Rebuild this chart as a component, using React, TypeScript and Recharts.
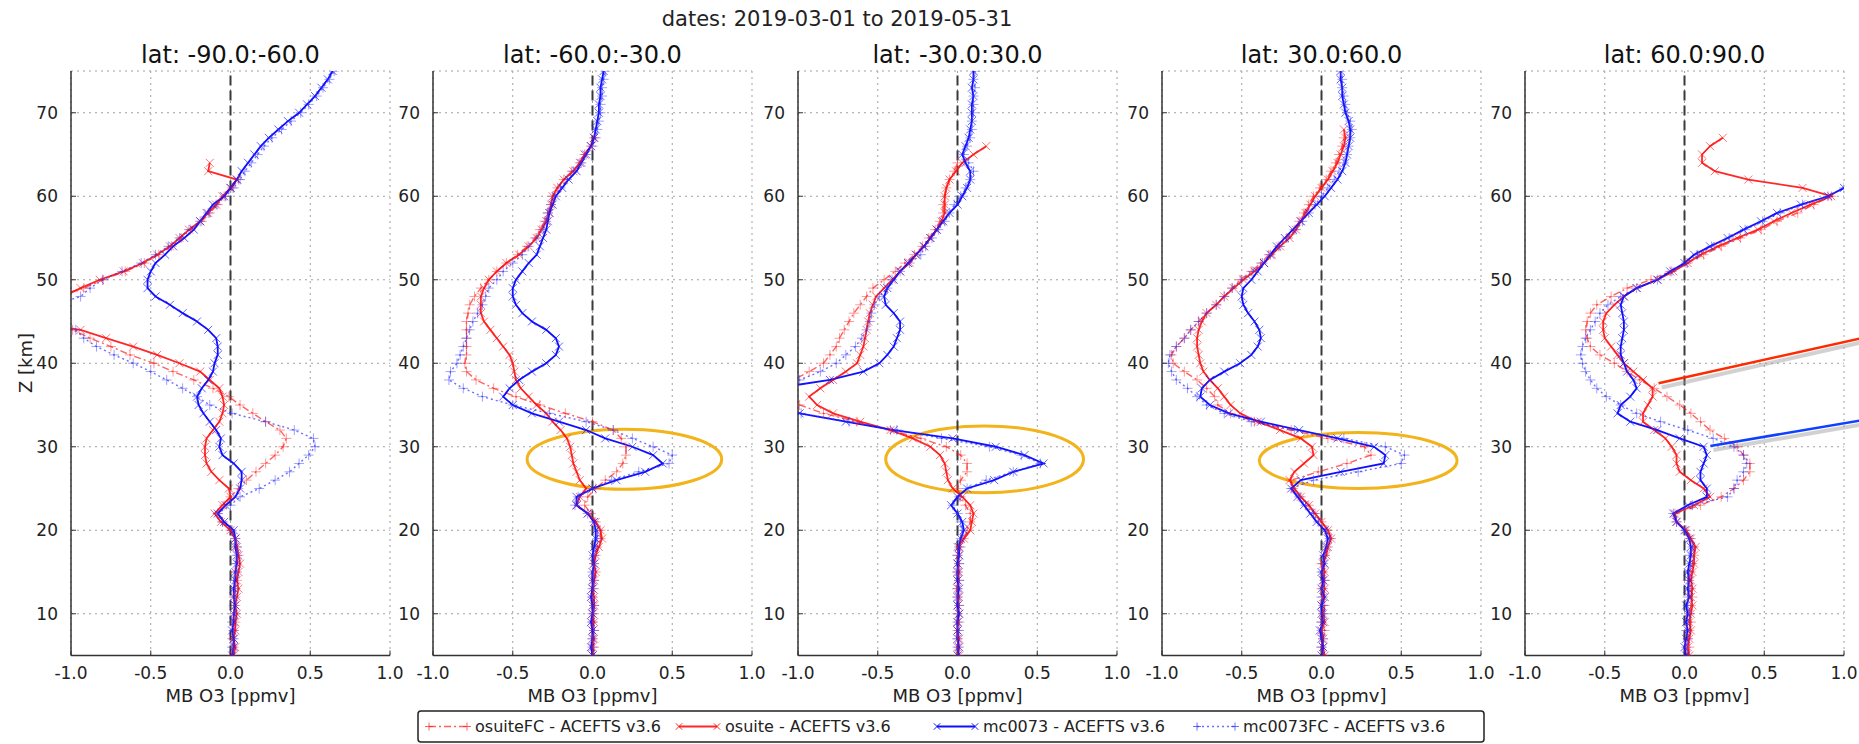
import React from 'react';
import { LineChart, Line, XAxis, YAxis, CartesianGrid, ReferenceLine, ReferenceArea } from 'recharts';

type Val = number | null;
const _ = null;

// altitude levels (km)
const Z = [5, 6, 7, 8, 9, 10, 11, 12, 13, 14, 15, 16, 17, 18, 19,
  20, 21, 22, 23, 24, 25, 26, 27, 28, 29,
  30, 31, 32, 33, 34, 35, 36, 37, 38, 39,
  40, 41, 42, 43, 44, 45, 46, 47, 48, 49,
  50, 51, 52, 53, 54, 55, 56, 57, 58, 59,
  60, 61, 62, 63, 64, 65, 66, 67, 68, 69,
  70, 71, 72, 73, 74, 75];

const X_TICKS = [-1, -0.5, 0, 0.5, 1];
const Y_TICKS = [10, 20, 30, 40, 50, 60, 70];
const PANEL_TITLES = ['lat: -90.0:-60.0', 'lat: -60.0:-30.0', 'lat: -30.0:30.0', 'lat: 30.0:60.0', 'lat: 60.0:90.0'];
const SERIES_NAMES = ['osuiteFC - ACEFTS v3.6', 'osuite - ACEFTS v3.6', 'mc0073 - ACEFTS v3.6', 'mc0073FC - ACEFTS v3.6'];
const DATE_TEXT = 'dates: 2019-03-01 to 2019-05-31';
const X_LABEL = 'MB O3 [ppmv]';
const Y_LABEL = 'Z [km]';

// ---- lat -90:-60
const P1_OSUITEFC: Val[] = [0.01, 0.02, 0.01, 0.02, 0.03, 0.02, 0.03, 0.02, 0.03, 0.04, 0.03, 0.04, 0.05, 0.04, 0.03,
  0.0, -0.05, -0.08, -0.04, 0.0, 0.05, 0.1, 0.16, 0.22, 0.28,
  0.33, 0.35, 0.31, 0.22, 0.14, 0.06, -0.01, -0.11, -0.23, -0.36,
  -0.48, -0.63, -0.75, -0.88, -0.99, -1.3, -1.5, -1.4, -1.1, -0.92,
  -0.8, -0.66, -0.54, -0.45, -0.37, -0.31, -0.25, -0.18, -0.13, -0.08,
  -0.04, 0.01, 0.05, _, _, _, _, _, _, _,
  _, _, _, _, _, _];
const P1_OSUITE: Val[] = [0.02, 0.03, 0.02, 0.03, 0.03, 0.04, 0.03, 0.04, 0.05, 0.04, 0.05, 0.06, 0.05, 0.04, 0.03,
  0.0, -0.06, -0.1, -0.05, 0.0, -0.01, -0.07, -0.12, -0.15, -0.16,
  -0.16, -0.15, -0.11, -0.07, -0.05, -0.04, -0.05, -0.07, -0.13, -0.19,
  -0.32, -0.46, -0.61, -0.78, -0.94, -1.3, -1.5, -1.4, -1.05, -0.94,
  -0.82, -0.67, -0.55, -0.46, -0.38, -0.32, -0.26, -0.19, -0.14, -0.09,
  -0.05, 0.0, 0.04, -0.14, -0.13, _, _, _, _, _,
  _, _, _, _, _, _];
const P1_MC0073: Val[] = [0.01, 0.02, 0.02, 0.01, 0.02, 0.02, 0.03, 0.02, 0.02, 0.03, 0.03, 0.04, 0.04, 0.03, 0.03,
  0.02, -0.04, -0.08, -0.03, 0.03, 0.06, 0.07, 0.07, 0.02, -0.05,
  -0.07, -0.06, -0.09, -0.13, -0.17, -0.2, -0.21, -0.18, -0.14, -0.11,
  -0.1, -0.08, -0.08, -0.09, -0.14, -0.21, -0.3, -0.38, -0.47, -0.52,
  -0.52, -0.5, -0.47, -0.41, -0.36, -0.29, -0.23, -0.19, -0.15, -0.11,
  -0.04, 0.0, 0.04, 0.07, 0.11, 0.15, 0.19, 0.24, 0.3, 0.36,
  0.43, 0.48, 0.53, 0.57, 0.61, 0.64];
const P1_MC0073FC: Val[] = [0.02, 0.01, 0.02, 0.02, 0.01, 0.03, 0.02, 0.03, 0.03, 0.02, 0.04, 0.03, 0.04, 0.04, 0.03,
  0.01, -0.05, -0.08, 0.0, 0.06, 0.18, 0.28, 0.37, 0.43, 0.49,
  0.53, 0.52, 0.4, 0.22, 0.01, -0.13, -0.21, -0.3, -0.4, -0.5,
  -0.61, -0.73, -0.84, -0.92, -0.97, -1.3, -1.4, -1.1, -0.94, -0.88,
  -0.8, -0.68, -0.56, -0.47, -0.39, -0.32, -0.26, -0.19, -0.14, -0.09,
  -0.03, 0.02, 0.06, 0.09, 0.13, 0.17, 0.21, 0.26, 0.32, 0.38,
  0.44, 0.49, 0.54, 0.58, 0.62, 0.65];

// ---- lat -60:-30
const P2_OSUITEFC: Val[] = [0.0, 0.01, 0.0, 0.01, 0.0, 0.01, 0.01, 0.0, 0.01, 0.01, 0.02, 0.01, 0.02, 0.03, 0.05,
  0.05, 0.02, -0.01, -0.05, -0.03, 0.02, 0.08, 0.15, 0.19, 0.21,
  0.21, 0.18, 0.13, 0.0, -0.17, -0.33, -0.48, -0.62, -0.73, -0.79,
  -0.8, -0.79, -0.79, -0.79, -0.79, -0.79, -0.78, -0.77, -0.74, -0.7,
  -0.65, -0.6, -0.54, -0.47, -0.41, -0.36, -0.33, -0.3, -0.28, -0.26,
  -0.25, -0.22, -0.18, -0.13, -0.08, -0.05, -0.01, 0.01, _, _,
  _, _, _, _, _, _];
const P2_OSUITE: Val[] = [0.0, 0.0, 0.01, 0.0, 0.01, 0.0, 0.01, 0.01, 0.0, 0.01, 0.02, 0.01, 0.02, 0.04, 0.06,
  0.05, 0.02, -0.03, -0.1, -0.08, -0.04, -0.08, -0.1, -0.12, -0.13,
  -0.14, -0.16, -0.2, -0.25, -0.29, -0.35, -0.4, -0.45, -0.48, -0.49,
  -0.5, -0.52, -0.56, -0.6, -0.64, -0.68, -0.7, -0.7, -0.7, -0.68,
  -0.65, -0.6, -0.54, -0.46, -0.4, -0.35, -0.32, -0.29, -0.27, -0.26,
  -0.25, -0.22, -0.18, -0.12, -0.08, -0.05, -0.01, 0.01, _, _,
  _, _, _, _, _, _];
const P2_MC0073: Val[] = [0.0, -0.01, 0.0, 0.0, -0.01, 0.0, 0.0, -0.01, 0.0, 0.0, 0.0, 0.01, 0.0, 0.01, 0.02,
  0.02, 0.01, -0.03, -0.1, -0.1, 0.0, 0.15, 0.33, 0.44, 0.38,
  0.25, 0.08, -0.04, -0.21, -0.38, -0.5, -0.56, -0.52, -0.46, -0.38,
  -0.29, -0.23, -0.21, -0.23, -0.29, -0.38, -0.44, -0.48, -0.5, -0.5,
  -0.48, -0.44, -0.4, -0.35, -0.33, -0.31, -0.29, -0.28, -0.27, -0.25,
  -0.23, -0.19, -0.15, -0.1, -0.07, -0.04, -0.01, 0.01, 0.02, 0.03,
  0.04, 0.04, 0.05, 0.05, 0.06, 0.07];
const P2_MC0073FC: Val[] = [0.01, 0.0, 0.0, 0.01, 0.0, 0.0, 0.01, 0.0, 0.0, 0.01, 0.0, 0.01, 0.01, 0.02, 0.03,
  0.03, 0.01, -0.03, -0.11, -0.09, 0.0, 0.12, 0.29, 0.48, 0.5,
  0.38, 0.25, 0.13, -0.04, -0.27, -0.5, -0.69, -0.81, -0.9, -0.89,
  -0.85, -0.83, -0.81, -0.79, -0.77, -0.75, -0.72, -0.69, -0.67, -0.65,
  -0.6, -0.56, -0.5, -0.44, -0.4, -0.35, -0.31, -0.29, -0.28, -0.26,
  -0.24, -0.2, -0.16, -0.12, -0.07, -0.04, 0.0, 0.02, 0.03, 0.04,
  0.05, 0.05, 0.06, 0.06, 0.07, 0.08];

// ---- lat -30:30
const P3_OSUITEFC: Val[] = [0.0, 0.01, 0.0, 0.0, 0.01, 0.0, 0.01, 0.0, 0.0, 0.01, 0.0, 0.01, 0.0, 0.02, 0.04,
  0.06, 0.08, 0.08, 0.05, 0.02, 0.0, 0.02, 0.06, 0.06, 0.02,
  -0.07, -0.23, -0.42, -0.63, -0.84, -0.99, -1.05, -1.08, -1.03, -0.93,
  -0.84, -0.8, -0.76, -0.74, -0.71, -0.68, -0.65, -0.61, -0.57, -0.53,
  -0.46, -0.39, -0.33, -0.27, -0.22, -0.18, -0.14, -0.11, -0.09, -0.09,
  -0.08, -0.07, -0.05, -0.02, 0.0, _, _, _, _, _,
  _, _, _, _, _, _];
const P3_OSUITE: Val[] = [0.01, 0.0, 0.01, 0.0, 0.0, 0.01, 0.0, 0.01, 0.0, 0.0, 0.01, 0.0, 0.01, 0.0, 0.04,
  0.08, 0.09, 0.1, 0.08, 0.03, -0.03, -0.06, -0.07, -0.08, -0.11,
  -0.17, -0.28, -0.42, -0.61, -0.78, -0.88, -0.93, -0.86, -0.78, -0.7,
  -0.63, -0.61, -0.59, -0.58, -0.57, -0.56, -0.55, -0.53, -0.51, -0.46,
  -0.41, -0.36, -0.3, -0.26, -0.21, -0.17, -0.13, -0.1, -0.08, -0.08,
  -0.08, -0.07, -0.05, -0.01, 0.03, 0.1, 0.18, _, _, _,
  _, _, _, _, _, _];
const P3_MC0073: Val[] = [0.0, 0.01, 0.0, 0.0, 0.0, 0.01, 0.0, 0.0, 0.01, 0.0, 0.0, 0.0, 0.01, 0.01, 0.02,
  0.04, 0.03, 0.0, -0.04, 0.0, 0.06, 0.23, 0.35, 0.54, 0.42,
  0.24, -0.03, -0.4, -0.7, -0.99, -1.2, -1.3, -1.15, -0.8, -0.59,
  -0.49, -0.44, -0.4, -0.38, -0.36, -0.36, -0.4, -0.45, -0.46, -0.44,
  -0.4, -0.36, -0.31, -0.26, -0.21, -0.17, -0.13, -0.09, -0.05, 0.0,
  0.03, 0.06, 0.08, 0.08, 0.05, 0.03, 0.05, 0.07, 0.08, 0.09,
  0.09, 0.09, 0.1, 0.09, 0.1, 0.1];
const P3_MC0073FC: Val[] = [0.01, 0.0, 0.0, 0.01, 0.0, 0.0, 0.01, 0.0, 0.0, 0.01, 0.0, 0.01, 0.0, 0.01, 0.02,
  0.03, 0.02, 0.0, -0.03, 0.01, 0.06, 0.18, 0.35, 0.52, 0.4,
  0.2, -0.1, -0.38, -0.68, -0.98, -1.15, -1.2, -1.1, -0.99, -0.86,
  -0.76, -0.7, -0.64, -0.6, -0.57, -0.55, -0.54, -0.52, -0.49, -0.44,
  -0.41, -0.36, -0.3, -0.23, -0.2, -0.16, -0.12, -0.08, -0.05, -0.02,
  0.02, 0.05, 0.08, 0.1, 0.07, 0.04, 0.06, 0.08, 0.09, 0.09,
  0.1, 0.1, 0.1, 0.11, 0.1, 0.11];

// ---- lat 30:60
const P4_OSUITEFC: Val[] = [0.01, 0.0, 0.01, 0.02, 0.0, 0.01, 0.02, 0.01, 0.0, 0.02, 0.01, 0.0, 0.02, 0.04, 0.06,
  0.04, 0.0, -0.04, -0.08, -0.13, -0.18, -0.19, -0.02, 0.16, 0.31,
  0.27, 0.04, -0.19, -0.42, -0.57, -0.65, -0.67, -0.72, -0.78, -0.86,
  -0.93, -0.94, -0.91, -0.86, -0.82, -0.77, -0.72, -0.66, -0.61, -0.56,
  -0.51, -0.44, -0.38, -0.33, -0.27, -0.22, -0.17, -0.14, -0.11, -0.08,
  -0.05, -0.01, 0.03, 0.06, 0.09, 0.11, 0.13, 0.14, _, _,
  _, _, _, _, _, _];
const P4_OSUITE: Val[] = [0.02, 0.01, 0.01, 0.0, 0.02, 0.01, 0.0, 0.01, 0.02, 0.01, 0.02, 0.01, 0.03, 0.04, 0.06,
  0.04, 0.0, -0.04, -0.08, -0.13, -0.17, -0.2, -0.17, -0.11, -0.05,
  -0.06, -0.13, -0.26, -0.4, -0.51, -0.57, -0.61, -0.65, -0.7, -0.74,
  -0.76, -0.77, -0.78, -0.78, -0.77, -0.75, -0.72, -0.66, -0.61, -0.55,
  -0.49, -0.42, -0.36, -0.31, -0.26, -0.2, -0.16, -0.13, -0.1, -0.07,
  -0.04, 0.0, 0.04, 0.07, 0.1, 0.12, 0.14, 0.15, 0.14, _,
  _, _, _, _, _, _];
const P4_MC0073: Val[] = [0.0, 0.01, 0.0, -0.01, 0.01, 0.0, 0.0, 0.02, 0.0, 0.01, 0.0, 0.02, 0.01, 0.03, 0.04,
  0.02, -0.03, -0.07, -0.11, -0.15, -0.19, -0.13, 0.12, 0.39, 0.4,
  0.33, 0.1, -0.14, -0.38, -0.58, -0.7, -0.76, -0.75, -0.7, -0.61,
  -0.51, -0.44, -0.4, -0.38, -0.39, -0.42, -0.46, -0.49, -0.5, -0.49,
  -0.44, -0.4, -0.36, -0.32, -0.28, -0.23, -0.18, -0.13, -0.08, -0.03,
  0.02, 0.06, 0.1, 0.13, 0.15, 0.16, 0.17, 0.18, 0.18, 0.17,
  0.15, 0.14, 0.13, 0.13, 0.12, 0.12];
const P4_MC0073FC: Val[] = [0.01, 0.0, 0.01, 0.0, 0.0, 0.02, 0.01, 0.0, 0.01, 0.02, 0.0, 0.01, 0.02, 0.03, 0.05,
  0.03, -0.02, -0.05, -0.1, -0.14, -0.19, -0.05, 0.23, 0.5, 0.52,
  0.4, 0.14, -0.17, -0.44, -0.61, -0.72, -0.78, -0.84, -0.91, -0.94,
  -0.96, -0.95, -0.91, -0.86, -0.82, -0.77, -0.72, -0.66, -0.61, -0.56,
  -0.5, -0.43, -0.37, -0.32, -0.26, -0.21, -0.16, -0.12, -0.08, -0.04,
  0.0, 0.04, 0.08, 0.11, 0.14, 0.16, 0.17, 0.18, 0.19, 0.18,
  0.16, 0.15, 0.14, 0.13, 0.13, 0.12];

// ---- lat 60:90
const P5_OSUITEFC: Val[] = [0.02, 0.03, 0.02, 0.03, 0.04, 0.03, 0.04, 0.05, 0.04, 0.03, 0.04, 0.05, 0.06, 0.06, 0.04,
  0.01, -0.05, -0.06, 0.1, 0.23, 0.31, 0.37, 0.41, 0.41, 0.37,
  0.33, 0.25, 0.16, 0.1, 0.04, -0.03, -0.11, -0.19, -0.28, -0.36,
  -0.44, -0.53, -0.59, -0.61, -0.62, -0.61, -0.59, -0.55, -0.46, -0.36,
  -0.21, -0.09, 0.02, 0.12, 0.23, 0.35, 0.48, 0.58, 0.71, 0.81,
  0.92, _, _, _, _, _, _, _, _, _,
  _, _, _, _, _, _];
const P5_OSUITE: Val[] = [0.03, 0.02, 0.03, 0.04, 0.03, 0.04, 0.05, 0.04, 0.05, 0.04, 0.05, 0.06, 0.06, 0.07, 0.04,
  0.01, -0.05, -0.06, 0.06, 0.16, 0.12, 0.04, -0.03, -0.05, -0.05,
  -0.08, -0.12, -0.19, -0.26, -0.26, -0.23, -0.2, -0.2, -0.26, -0.32,
  -0.38, -0.42, -0.46, -0.5, -0.51, -0.51, -0.49, -0.44, -0.38, -0.3,
  -0.17, -0.07, 0.02, 0.1, 0.21, 0.33, 0.46, 0.56, 0.67, 0.79,
  0.92, 0.74, 0.4, 0.19, 0.11, 0.11, 0.16, 0.24, _, _,
  _, _, _, _, _, _];
const P5_MC0073: Val[] = [0.01, 0.0, 0.01, 0.02, 0.01, 0.02, 0.01, 0.03, 0.02, 0.03, 0.02, 0.03, 0.04, 0.04, 0.03,
  0.0, -0.05, -0.07, 0.02, 0.14, 0.14, 0.1, 0.1, 0.12, 0.14,
  0.12, -0.03, -0.17, -0.34, -0.42, -0.4, -0.34, -0.3, -0.32, -0.36,
  -0.38, -0.4, -0.4, -0.39, -0.38, -0.38, -0.39, -0.4, -0.38, -0.3,
  -0.17, -0.09, 0.0, 0.06, 0.16, 0.27, 0.37, 0.48, 0.58, 0.73,
  0.9, 1.0, _, _, _, _, _, _, _, _,
  _, _, _, _, _, _];
const P5_MC0073FC: Val[] = [0.02, 0.01, 0.02, 0.01, 0.02, 0.03, 0.02, 0.02, 0.03, 0.02, 0.03, 0.04, 0.03, 0.05, 0.03,
  0.0, -0.05, -0.07, 0.05, 0.27, 0.31, 0.33, 0.37, 0.39, 0.37,
  0.31, 0.18, 0.02, -0.15, -0.3, -0.4, -0.49, -0.55, -0.59, -0.62,
  -0.64, -0.65, -0.64, -0.62, -0.59, -0.56, -0.53, -0.48, -0.4, -0.3,
  -0.17, -0.08, 0.01, 0.08, 0.17, 0.28, 0.38, 0.49, 0.6, 0.74,
  0.9, 1.0, _, _, _, _, _, _, _, _,
  _, _, _, _, _, _];

const PANEL_SERIES: Val[][][] = [
  [P1_OSUITEFC, P1_OSUITE, P1_MC0073, P1_MC0073FC],
  [P2_OSUITEFC, P2_OSUITE, P2_MC0073, P2_MC0073FC],
  [P3_OSUITEFC, P3_OSUITE, P3_MC0073, P3_MC0073FC],
  [P4_OSUITEFC, P4_OSUITE, P4_MC0073, P4_MC0073FC],
  [P5_OSUITEFC, P5_OSUITE, P5_MC0073, P5_MC0073FC],
];

// annotation ellipses (data coords: x1, x2, z1, z2) per panel
const ELLIPSE_X1 = [null, -0.41, -0.45, -0.39, null];
const ELLIPSE_X2 = [null, 0.81, 0.79, 0.85, null];
const ELLIPSE_Z1 = [null, 24.9, 24.5, 25.0, null];
const ELLIPSE_Z2 = [null, 32.1, 32.5, 31.7, null];
// arrows in last panel (data coords)
const ARROW_RED = [{ x: -0.163, z: 37.6 }, { x: 1.12, z: 43.05 }];
const ARROW_BLUE = [{ x: 0.162, z: 30.1 }, { x: 1.12, z: 33.2 }];

// ---------- layout / style ----------
const PLOT_LEFTS = [71, 433, 798, 1162, 1525];
const PLOT_TOP = 70.5;
const PLOT_W = 319;
const PLOT_H = 584.5;
const FONT = 'DejaVu Sans, Verdana, sans-serif';

const STYLES = [
  { color: '#ff2020', dash: '7 3 2 3', width: 1.4, opacity: 0.7, marker: 'plus' },
  { color: '#ff1010', dash: undefined, width: 1.8, opacity: 0.9, marker: 'x' },
  { color: '#1010ff', dash: undefined, width: 1.8, opacity: 1, marker: 'x' },
  { color: '#3030ff', dash: '2 3', width: 1.4, opacity: 0.7, marker: 'plus' },
];

const toPoints = (vals: Val[]) =>
  Z.map((z, i) => ({ z, x: vals[i] })).filter((p) => p.x !== null && p.x !== undefined);

const makeDot = (kind: string, color: string, op: number) => (props: any) => {
  const { cx, cy, index } = props;
  if (cx == null || cy == null || Number.isNaN(cx) || Number.isNaN(cy)) return <g key={`n${index}`} />;
  const s = kind === 'plus' ? 5 : 4;
  const d = kind === 'plus'
    ? `M${cx - s},${cy}H${cx + s}M${cx},${cy - s}V${cy + s}`
    : `M${cx - s},${cy - s}L${cx + s},${cy + s}M${cx - s},${cy + s}L${cx + s},${cy - s}`;
  return <path key={`m${index}`} d={d} stroke={color} strokeOpacity={op * 0.65} strokeWidth={1} fill="none" />;
};

const emptyTick = () => <g />;
const fmtX = (v: number) => v.toFixed(1);

function Panel({ idx }: { idx: number }) {
  const plotLeft = PLOT_LEFTS[idx];
  const AXW = 42, ML = 18, MT = 10, XAH = 40;
  const mr = idx === 4 ? 1859 - (plotLeft + PLOT_W) : 14;
  const width = ML + AXW + PLOT_W + mr;
  const height = MT + PLOT_H + XAH;
  const series = PANEL_SERIES[idx];
  const axisLine = { stroke: '#333', strokeWidth: 1.5 };
  const ex1 = ELLIPSE_X1[idx], ex2 = ELLIPSE_X2[idx], ez1 = ELLIPSE_Z1[idx], ez2 = ELLIPSE_Z2[idx];
  return (
    <div style={{ position: 'absolute', left: plotLeft - AXW - ML, top: PLOT_TOP - MT }}>
      <LineChart width={width} height={height} margin={{ top: MT, right: mr, bottom: 0, left: ML }}>
        <CartesianGrid xAxisId="b" yAxisId="l" stroke="#a0a0a0" strokeDasharray="2 4" strokeWidth={1} />
        <XAxis xAxisId="b" orientation="bottom" type="number" dataKey="x" domain={[-1, 1]} ticks={X_TICKS}
          allowDataOverflow interval={0} tickFormatter={fmtX} height={XAH} tickSize={-5} tickMargin={16}
          axisLine={axisLine} tickLine={{ stroke: '#333' }}
          tick={{ fill: '#222', fontSize: 17, fontFamily: FONT }} />
        <XAxis xAxisId="t" orientation="top" type="number" dataKey="x" domain={[-1, 1]} ticks={X_TICKS}
          allowDataOverflow interval={0} height={0} tickSize={-5} axisLine={axisLine}
          tickLine={{ stroke: '#333' }} tick={emptyTick} />
        <YAxis yAxisId="l" orientation="left" type="number" domain={[5, 75]} ticks={Y_TICKS}
          allowDataOverflow interval={0} width={AXW} tickSize={-5} tickMargin={18}
          axisLine={axisLine} tickLine={{ stroke: '#333' }}
          tick={{ fill: '#222', fontSize: 17, fontFamily: FONT }} />
        <YAxis yAxisId="r" orientation="right" type="number" domain={[5, 75]} ticks={Y_TICKS}
          allowDataOverflow interval={0} width={0} tickSize={-5} axisLine={axisLine}
          tickLine={{ stroke: '#333' }} tick={emptyTick} />
        <ReferenceLine xAxisId="b" yAxisId="l" x={0} stroke="#3a3a3a" strokeWidth={2} strokeDasharray="10 5" />
        {series.map((vals, si) => {
          const st = STYLES[si];
          return (
            <Line key={si} xAxisId="b" yAxisId="l" data={toPoints(vals)} dataKey="z" name={SERIES_NAMES[si]}
              type="linear" stroke={st.color} strokeOpacity={st.opacity} strokeWidth={st.width}
              strokeDasharray={st.dash} dot={makeDot(st.marker, st.color, st.opacity)} activeDot={false}
              isAnimationActive={false} />
          );
        })}
        {ex1 !== null && (
          <ReferenceArea xAxisId="b" yAxisId="l" x1={ex1} x2={ex2 as number} y1={ez1 as number} y2={ez2 as number}
            ifOverflow="visible"
            shape={(p: any) => (
              <ellipse cx={p.x + p.width / 2} cy={p.y + p.height / 2} rx={Math.abs(p.width) / 2}
                ry={Math.abs(p.height) / 2} fill="none" stroke="#f2b31b" strokeWidth={3} />
            )} />
        )}
        {idx === 4 && (
          <ReferenceLine xAxisId="b" yAxisId="l" ifOverflow="visible"
            segment={[{ x: ARROW_RED[0].x + 0.02, y: ARROW_RED[0].z - 0.5 }, { x: ARROW_RED[1].x, y: ARROW_RED[1].z - 0.5 }]}
            stroke="#999" strokeOpacity={0.45} strokeWidth={4} />
        )}
        {idx === 4 && (
          <ReferenceLine xAxisId="b" yAxisId="l" ifOverflow="visible"
            segment={[{ x: ARROW_BLUE[0].x + 0.02, y: ARROW_BLUE[0].z - 0.5 }, { x: ARROW_BLUE[1].x, y: ARROW_BLUE[1].z - 0.5 }]}
            stroke="#999" strokeOpacity={0.45} strokeWidth={4} />
        )}
        {idx === 4 && (
          <ReferenceLine xAxisId="b" yAxisId="l" ifOverflow="visible"
            segment={[{ x: ARROW_RED[0].x, y: ARROW_RED[0].z }, { x: ARROW_RED[1].x, y: ARROW_RED[1].z }]}
            stroke="#ff2a00" strokeWidth={2.5} />
        )}
        {idx === 4 && (
          <ReferenceLine xAxisId="b" yAxisId="l" ifOverflow="visible"
            segment={[{ x: ARROW_BLUE[0].x, y: ARROW_BLUE[0].z }, { x: ARROW_BLUE[1].x, y: ARROW_BLUE[1].z }]}
            stroke="#1040ff" strokeWidth={2.5} />
        )}
      </LineChart>
    </div>
  );
}

const LEGEND_SAMPLE_X = [429, 679, 937, 1197];

function LegendSymbol({ si, x, y }: { si: number; x: number; y: number }) {
  const st = STYLES[si];
  const w = 38;
  const m = (cx: number) => st.marker === 'plus'
    ? `M${cx - 4},${y}H${cx + 4}M${cx},${y - 4}V${y + 4}`
    : `M${cx - 3.2},${y - 3.2}L${cx + 3.2},${y + 3.2}M${cx - 3.2},${y + 3.2}L${cx + 3.2},${y - 3.2}`;
  return (
    <g>
      <line x1={x} y1={y} x2={x + w} y2={y} stroke={st.color} strokeOpacity={st.opacity}
        strokeWidth={st.width} strokeDasharray={st.dash} />
      <path d={m(x) + m(x + w)} stroke={st.color} strokeOpacity={st.opacity} strokeWidth={1} fill="none" />
    </g>
  );
}

export default function App() {
  return (
    <div style={{ position: 'absolute', left: 0, top: 0, width: 1859, height: 744, background: '#fff', overflow: 'hidden', fontFamily: FONT }}>
      {PANEL_TITLES.map((_t, i) => <Panel key={i} idx={i} />)}
      <svg width={1859} height={744} style={{ position: 'absolute', left: 0, top: 0, pointerEvents: 'none' }}
        fontFamily={FONT}>
        <text x={837} y={26} textAnchor="middle" fontSize={21} fill="#222">{DATE_TEXT}</text>
        {PANEL_TITLES.map((t, i) => (
          <text key={`t${i}`} x={PLOT_LEFTS[i] + PLOT_W / 2} y={63} textAnchor="middle" fontSize={24} fill="#111">{t}</text>
        ))}
        {PANEL_TITLES.map((_t, i) => (
          <text key={`xl${i}`} x={PLOT_LEFTS[i] + PLOT_W / 2} y={702} textAnchor="middle" fontSize={18} fill="#222">{X_LABEL}</text>
        ))}
        <text transform="translate(32,363) rotate(-90)" textAnchor="middle" fontSize={18} fill="#222">{Y_LABEL}</text>
        <rect x={418} y={711} width={1066} height={31} rx={3} fill="#fff" stroke="#222" strokeWidth={1.5} />
        {SERIES_NAMES.map((n, si) => (
          <g key={`lg${si}`}>
            <LegendSymbol si={si} x={LEGEND_SAMPLE_X[si]} y={726.5} />
            <text x={LEGEND_SAMPLE_X[si] + 46} y={732} fontSize={16} fill="#222">{n}</text>
          </g>
        ))}
      </svg>
    </div>
  );
}
